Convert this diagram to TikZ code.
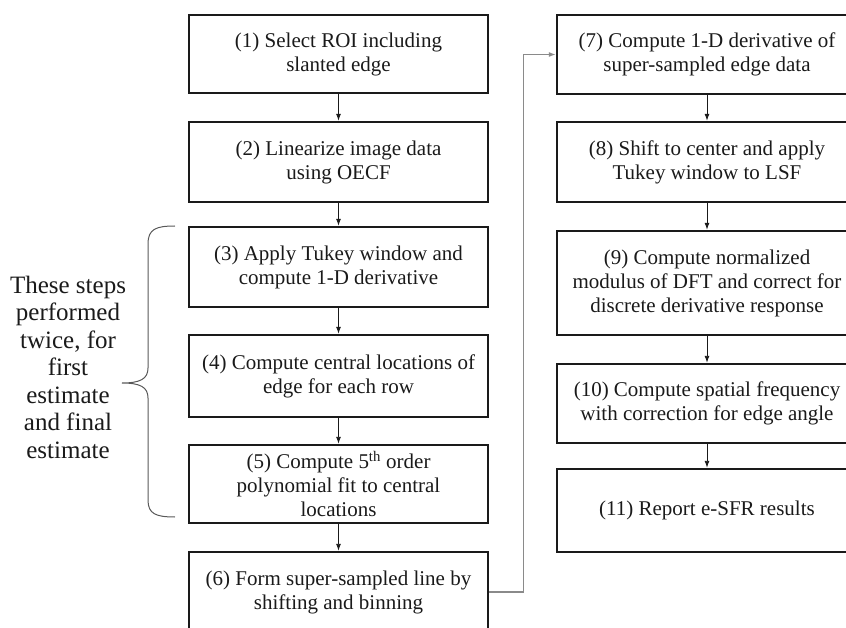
\documentclass[tikz,border=0pt]{standalone}
\usepackage{fontspec}
\setmainfont{Liberation Serif}
\usepackage{tikz}
\usetikzlibrary{arrows.meta, positioning, calc}
\definecolor{darktext}{HTML}{1A1A1A}
\definecolor{linkgray}{HTML}{8A8A8A}
\newcommand{\boxfont}{\fontsize{21}{24}\selectfont}
\newcommand{\sidefont}{\fontsize{25}{27.5}\selectfont}
\tikzset{
  stepbox/.style={draw=darktext, line width=2.4pt, minimum width=299pt,
    minimum height=80pt, align=center, inner sep=0pt, font=\boxfont, text=darktext},
  flow/.style={-{Latex[length=7pt,width=5pt]}, line width=0.9pt, darktext},
}

\begin{document}
\begin{tikzpicture}[x=1pt, y=-1pt]
    \useasboundingbox (0,0) rectangle (846,628);
    \clip (0,0) rectangle (846,628);
    % left column
    \node[stepbox, minimum height=78pt] (s1) at (338.5,54) {(1) Select ROI including\\slanted edge};
    \node[stepbox] (s2) at (338.5,162) {(2) Linearize image data\\using OECF};
    \node[stepbox] (s3) at (338.5,267) {(3) Apply Tukey window and\\compute 1-D derivative};
    \node[stepbox, minimum height=82pt] (s4) at (338.5,376) {(4) Compute central locations of\\edge for each row};
    \node[stepbox, minimum height=78pt] (s5) at (338.5,484) {(5) Compute 5\textsuperscript{th} order\\polynomial fit to central\\locations};
    \node[stepbox] (s6) at (338.5,592) {(6) Form super-sampled line by\\shifting and binning};
    % right column
    \node[stepbox, minimum width=300pt, minimum height=79pt] (s7) at (707,54.5) {(7) Compute 1-D derivative of\\super-sampled edge data};
    \node[stepbox, minimum width=300pt] (s8) at (707,162) {(8) Shift to center and apply\\Tukey window to LSF};
    \node[stepbox, minimum width=300pt, minimum height=104pt] (s9) at (707,283) {(9) Compute normalized\\modulus of DFT and correct for\\discrete derivative response};
    \node[stepbox, minimum width=300pt, minimum height=79pt] (s10) at (707,403.5) {(10) Compute spatial frequency\\with correction for edge angle};
    \node[stepbox, minimum width=300pt, minimum height=83pt] (s11) at (707,510.5) {(11) Report e-SFR results};
    % arrows
    \foreach \a/\b in {s1/s2, s2/s3, s3/s4, s4/s5, s5/s6, s7/s8, s8/s9, s9/s10, s10/s11}
        \draw[flow] (\a.south) -- (\b.north);
    \draw[-{Latex[length=7pt,width=5pt]}, line width=1.1pt, linkgray] (s6.east) -- ++(34,0) |- (s7.west);
    % brace and note
    \draw[line width=1pt, black!65]
        (175,226) .. controls (156,226) and (148,229) .. (148,244) -- (148,368)
        .. controls (148,379) and (140,383) .. (122,383)
        .. controls (140,383) and (148,387) .. (148,398) -- (148,500)
        .. controls (148,514) and (156,517) .. (175,517);
    \node[align=center, font=\sidefont, text=darktext] (note) at (68,367)
        {These steps\\performed\\twice, for\\first\\estimate\\and final\\estimate};
\end{tikzpicture}
\end{document}
